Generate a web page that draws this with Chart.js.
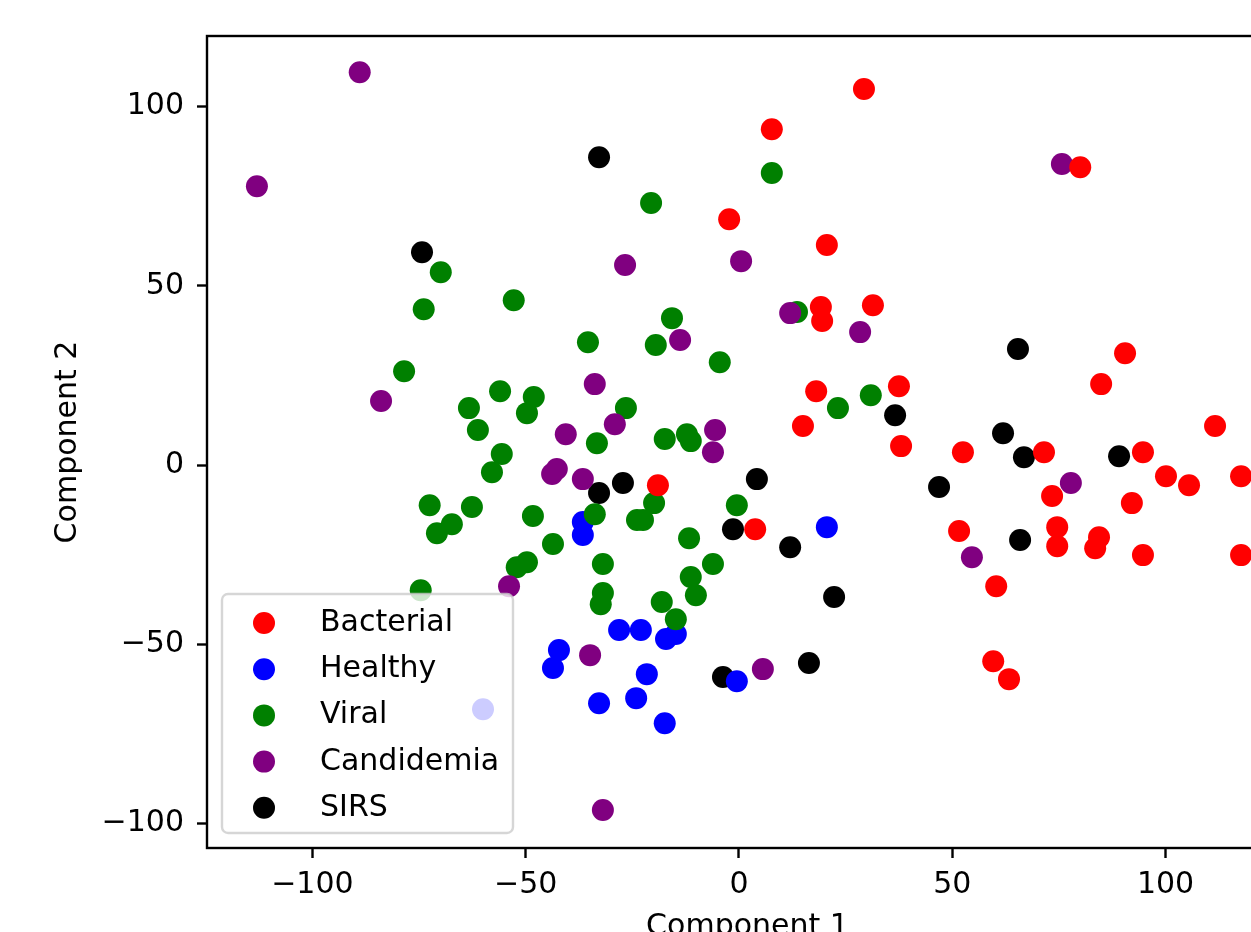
<!DOCTYPE html>
<html>
<head>
<meta charset="utf-8">
<script src="https://cdn.jsdelivr.net/npm/chart.js@4.4.0/dist/chart.umd.min.js"></script>
<style>
  html, body { margin: 0; padding: 0; background: #fff; overflow: hidden; }
  #wrap { width: 1251px; height: 932px; overflow: hidden; }
</style>
</head>
<body>
<div id="wrap"><canvas id="pcaChart" width="1320" height="960"></canvas></div>
<script>
const groupNames = ["Bacterial", "Healthy", "Viral", "Candidemia", "SIRS"];
const groupColors = ["red", "blue", "green", "purple", "black"];

const bacterial = [
  [29.3,104.9],[7.7,93.7],[80.0,83.1],[-2.3,68.6],[20.6,61.4],[19.2,44.1],[31.4,44.6],[19.5,40.2],
  [90.5,31.2],[84.9,22.6],[18.1,20.6],[37.5,22.0],[15.0,10.9],[38.0,5.3],[111.6,10.9],[52.5,3.6],
  [71.5,3.6],[94.7,3.6],[100.1,-3.1],[105.5,-5.6],[117.7,-3.1],[-19.0,-5.6],[73.4,-8.6],[92.1,-10.6],
  [3.8,-17.9],[51.6,-18.4],[74.6,-17.3],[74.6,-22.6],[84.4,-20.1],[83.5,-23.2],[94.7,-25.1],
  [117.7,-25.1],[60.3,-33.8],[59.6,-54.7],[63.3,-59.7]
];
const healthy = [
  [-36.6,-15.9],[-36.6,-19.5],[20.6,-17.3],[-28.1,-46.0],[-23.0,-46.0],[-17.1,-48.5],[-14.8,-47.1],
  [-42.2,-51.6],[-43.6,-56.6],[-21.6,-58.3],[-32.8,-66.4],[-24.1,-65.0],[-17.4,-72.0],[-0.5,-60.3],
  [-60.0,-68.1]
];
const viral = [
  [-20.6,73.1],[7.7,81.5],[-69.9,53.8],[-73.9,43.5],[-52.8,46.0],[-15.7,41.0],[-19.5,33.5],[-35.4,34.3],
  [-4.5,28.7],[-78.5,26.2],[13.6,42.7],[23.2,15.9],[30.9,19.5],[-56.0,20.6],[-48.1,19.0],[-49.7,14.5],
  [-63.3,15.9],[-61.2,9.8],[-26.5,15.9],[-33.3,6.1],[-17.4,7.3],[-12.2,8.6],[-11.3,6.7],[-55.6,3.1],
  [-57.9,-2.0],[-72.5,-11.2],[-62.6,-11.7],[-67.3,-16.5],[-70.8,-19.0],[-48.3,-14.2],[-33.8,-13.7],
  [-19.9,-10.6],[-23.9,-15.3],[-22.5,-15.3],[-0.5,-11.2],[-11.7,-20.4],[-43.6,-22.0],[-49.7,-27.1],
  [-52.1,-28.5],[-31.9,-27.6],[-6.1,-27.6],[-11.3,-31.2],[-10.1,-36.3],[-31.9,-35.7],[-32.4,-38.8],
  [-18.1,-38.2],[-14.8,-43.0],[-74.6,-34.9]
];
const candidemia = [
  [-88.9,109.6],[-113.0,77.8],[75.7,84.0],[-26.7,55.8],[0.5,56.9],[12.0,42.4],[28.4,37.1],[-83.9,17.9],
  [-13.8,34.9],[-33.8,22.6],[-29.1,11.4],[-40.6,8.6],[-5.6,9.8],[-6.1,3.6],[-42.7,-1.1],[-43.8,-2.5],
  [-36.6,-3.9],[77.8,-5.0],[54.6,-25.7],[-53.9,-33.8],[-34.9,-53.0],[5.6,-56.9],[-31.9,-96.2]
];
const sirs = [
  [-32.8,85.9],[-74.3,59.4],[65.4,32.4],[36.6,13.9],[61.9,8.9],[66.8,2.2],[89.1,2.5],[46.9,-6.1],
  [4.2,-3.9],[-27.2,-5.0],[-32.8,-7.8],[-1.4,-17.9],[12.0,-22.9],[65.9,-20.9],[22.3,-36.8],
  [16.4,-55.2],[-3.75,-59.1]
];

const xTicks = [-100, -50, 0, 50, 100];
const yTicks = [-100, -50, 0, 50, 100];
const xRange = [-124.7, 128.7];
const yRange = [-106.8, 119.7];

const groups = [bacterial, healthy, viral, candidemia, sirs];
// which group ends up on top where points overlap (lower = on top)
const drawOrder = [0, 3, 2, 1, 4];

const FONT = "DejaVu Sans";
const minus = v => String(v).replace("-", "\u2212");

// full box around the plot area, like matplotlib spines
const framePlugin = {
  id: "frame",
  afterDatasetsDraw(chart) {
    const { ctx, chartArea: a } = chart;
    ctx.save();
    ctx.strokeStyle = "#000";
    ctx.lineWidth = 2.4;
    ctx.strokeRect(a.left, a.top, a.right - a.left, a.bottom - a.top);
    ctx.restore();
  }
};

// legend box in the lower left corner, drawn over the points
const boxLegend = {
  id: "boxLegend",
  afterDraw(chart) {
    const { ctx, chartArea: a } = chart;
    const x0 = a.left + 15, h = 239, y0 = a.bottom - 15 - h, w = 291;
    ctx.save();
    ctx.beginPath();
    ctx.roundRect(x0, y0, w, h, 6);
    ctx.fillStyle = "rgba(255,255,255,0.8)";
    ctx.fill();
    ctx.lineWidth = 2.4;
    ctx.strokeStyle = "rgba(204,204,204,0.8)";
    ctx.stroke();
    ctx.font = "30px '" + FONT + "'";
    ctx.textBaseline = "alphabetic";
    ctx.textAlign = "left";
    chart.data.datasets.forEach((ds, i) => {
      const cy = y0 + 29 + i * 46.2;
      ctx.beginPath();
      ctx.arc(x0 + 42, cy, 11, 0, Math.PI * 2);
      ctx.fillStyle = ds.backgroundColor;
      ctx.fill();
      ctx.fillStyle = "#000";
      ctx.fillText(ds.label, x0 + 98, cy + 8);
    });
    ctx.restore();
  }
};

const tickFont = { family: FONT, size: 30 };

new Chart(document.getElementById("pcaChart"), {
  type: "scatter",
  data: {
    datasets: groups.map((pts, i) => ({
      label: groupNames[i],
      data: pts.map(p => ({ x: p[0], y: p[1] })),
      backgroundColor: groupColors[i],
      borderWidth: 0,
      pointRadius: 11,
      pointHoverRadius: 11,
      order: drawOrder[i]
    }))
  },
  options: {
    responsive: false,
    animation: false,
    devicePixelRatio: 1,
    layout: { padding: { left: 0, top: 36, right: 32, bottom: 0 } },
    plugins: { legend: { display: false }, tooltip: { enabled: false } },
    scales: {
      x: {
        type: "linear",
        min: xRange[0],
        max: xRange[1],
        bounds: "data",
        afterBuildTicks: s => { s.ticks = xTicks.map(v => ({ value: v })); },
        afterFit: s => { s.height = 112; },
        border: { display: false },
        grid: { drawOnChartArea: false, drawTicks: true, tickLength: 10, tickColor: "#000", tickWidth: 2.4 },
        ticks: { color: "#000", font: tickFont, padding: 9, maxRotation: 0, autoSkip: false, callback: minus },
        title: { display: true, text: "Component 1", color: "#000", font: tickFont, padding: { top: 0, bottom: 15 } }
      },
      y: {
        type: "linear",
        min: yRange[0],
        max: yRange[1],
        bounds: "data",
        afterBuildTicks: s => { s.ticks = yTicks.map(v => ({ value: v })); },
        afterFit: s => { s.width = 207; },
        border: { display: false },
        grid: { drawOnChartArea: false, drawTicks: true, tickLength: 10, tickColor: "#000", tickWidth: 2.4 },
        ticks: { color: "#000", font: tickFont, padding: 13, autoSkip: false, callback: minus },
        title: { display: true, text: "Component 2", color: "#000", font: tickFont, padding: { top: 50, bottom: 0 } }
      }
    }
  },
  plugins: [framePlugin, boxLegend]
});
</script>
</body>
</html>
